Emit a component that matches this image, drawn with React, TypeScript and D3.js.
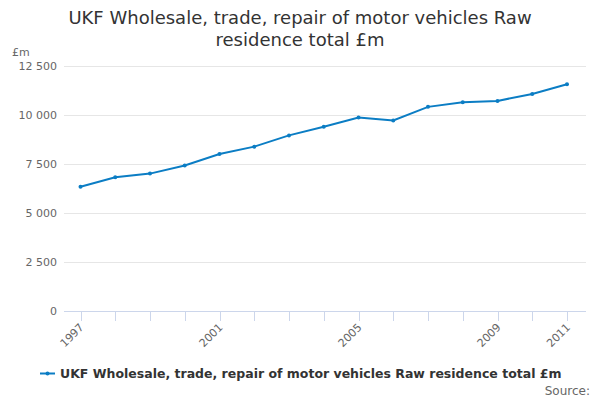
import { useRef, useEffect } from "react"
import * as d3 from "d3"

const years = ["1997", "1998", "1999", "2000", "2001", "2002", "2003", "2004", "2005", "2006", "2007", "2008", "2009", "2010", "2011"]
const values = [6340, 6825, 7010, 7420, 8010, 8385, 8960, 9400, 9875, 9720, 10415, 10655, 10720, 11075, 11570]
const yTicks = [0, 2500, 5000, 7500, 10000, 12500]
const shownYears = ["1997", "2001", "2005", "2009", "2011"]
const seriesName = "UKF Wholesale, trade, repair of motor vehicles Raw residence total £m"

export default function App() {
  const svgRef = useRef<SVGSVGElement | null>(null)

  useEffect(() => {
    if (!svgRef.current) return
    const svg = d3.select(svgRef.current)
    svg.selectAll("*").remove()

    const font = "DejaVu Sans, sans-serif"
    const left = 64
    const right = 586
    const top = 66
    const bottom = 311

    const x = d3.scalePoint<string>().domain(years).range([80.5, 567])
    const y = d3.scaleLinear().domain([0, 12500]).range([bottom, top])

    // Title
    const title = svg.append("text")
      .attr("x", 300)
      .attr("text-anchor", "middle")
      .style("font-family", font)
      .style("font-size", "18px")
      .attr("fill", "#333333")
    title.append("tspan").attr("x", 300).attr("y", 24).text("UKF Wholesale, trade, repair of motor vehicles Raw")
    title.append("tspan").attr("x", 300).attr("y", 46).text("residence total £m")

    // Grid lines
    svg.append("g")
      .selectAll("line")
      .data(yTicks.filter((d) => d > 0))
      .enter()
      .append("line")
      .attr("x1", left)
      .attr("x2", right)
      .attr("y1", (d) => Math.round(y(d)) + 0.5)
      .attr("y2", (d) => Math.round(y(d)) + 0.5)
      .attr("stroke", "#e6e6e6")
      .attr("stroke-width", 1)

    // Y labels
    svg.append("g")
      .selectAll("text")
      .data(yTicks)
      .enter()
      .append("text")
      .attr("x", 57)
      .attr("y", (d) => y(d) + 4)
      .attr("text-anchor", "end")
      .style("font-family", font)
      .style("font-size", "11px")
      .attr("fill", "#666666")
      .text((d) => d3.format(",")(d).replace(/,/g, " "))

    svg.append("text")
      .attr("x", 12)
      .attr("y", 56)
      .style("font-family", font)
      .style("font-size", "11px")
      .attr("fill", "#666666")
      .text("£m")

    // X axis
    svg.append("line")
      .attr("x1", left)
      .attr("x2", right)
      .attr("y1", bottom + 0.5)
      .attr("y2", bottom + 0.5)
      .attr("stroke", "#ccd6eb")

    svg.append("g")
      .selectAll("line")
      .data(years)
      .enter()
      .append("line")
      .attr("x1", (d) => Math.round(x(d)!) + 0.5)
      .attr("x2", (d) => Math.round(x(d)!) + 0.5)
      .attr("y1", bottom)
      .attr("y2", bottom + 10)
      .attr("stroke", "#ccd6eb")

    svg.append("g")
      .selectAll("text")
      .data(shownYears)
      .enter()
      .append("text")
      .attr("text-anchor", "end")
      .attr("transform", (d) => `translate(${x(d)! + 4},${bottom + 17}) rotate(-45)`)
      .style("font-family", font)
      .style("font-size", "11px")
      .attr("fill", "#666666")
      .text((d) => d)

    // Series line
    const line = d3.line<number>()
      .x((_, i) => x(years[i])!)
      .y((d) => y(d))

    svg.append("path")
      .datum(values)
      .attr("d", line)
      .attr("fill", "none")
      .attr("stroke", "#0b7dc4")
      .attr("stroke-width", 2)

    svg.append("g")
      .selectAll("circle")
      .data(values)
      .enter()
      .append("circle")
      .attr("cx", (_, i) => x(years[i])!)
      .attr("cy", (d) => y(d))
      .attr("r", 2)
      .attr("fill", "#0b7dc4")

    // Legend
    const legend = svg.append("g")
    legend.append("line")
      .attr("x1", 40)
      .attr("x2", 55)
      .attr("y1", 373.5)
      .attr("y2", 373.5)
      .attr("stroke", "#0b7dc4")
      .attr("stroke-width", 2)
    legend.append("circle")
      .attr("cx", 47.5)
      .attr("cy", 373.5)
      .attr("r", 2)
      .attr("fill", "#0b7dc4")
    legend.append("text")
      .attr("x", 60)
      .attr("y", 378)
      .style("font-family", font)
      .style("font-size", "12.5px")
      .style("font-weight", "bold")
      .attr("fill", "#333333")
      .text(seriesName)

    svg.append("text")
      .attr("x", 590)
      .attr("y", 395)
      .attr("text-anchor", "end")
      .style("font-family", font)
      .style("font-size", "12px")
      .attr("fill", "#666666")
      .text("Source:")
  }, [])

  return (
    <svg
      ref={svgRef}
      width={600}
      height={400}
      style={{ position: "absolute", left: 0, top: 0, background: "#ffffff" }}
    ></svg>
  )
}
